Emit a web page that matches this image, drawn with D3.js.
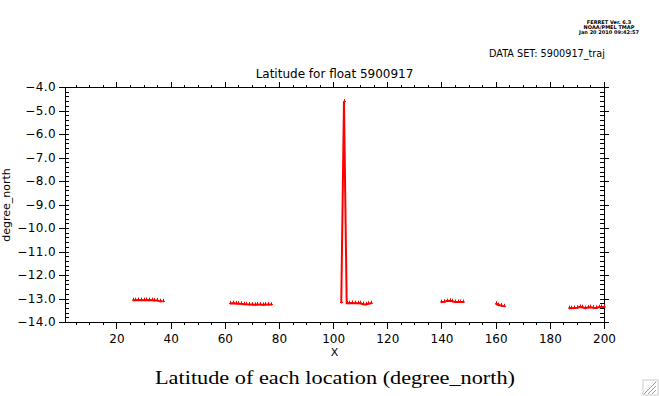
<!DOCTYPE html>
<html>
<head>
<meta charset="utf-8">
<script src="https://cdn.jsdelivr.net/npm/d3@7"></script>
<style>
  body { margin: 0; background: #fff; }
  svg { display: block; }
  .tick text { font-family: "DejaVu Sans", sans-serif; font-size: 12px; fill: #000; }
  .tick line { stroke: #000; }
</style>
</head>
<body>
<div id="chart"></div>
<script>
"use strict";

// float 5900917, latitude by location index (gaps = missing positions)
let segments = [
  { x: [26, 27, 28, 29, 30, 31, 32, 33, 34, 35, 36, 37],
    lat: [-13.07, -13.07, -13.06, -13.07, -13.07, -13.06, -13.07, -13.07, -13.08, -13.08, -13.12, -13.12] },
  { x: [62, 63, 64, 65, 66, 67, 68, 69, 70, 71, 72, 73, 74, 75, 76, 77],
    lat: [-13.21, -13.2, -13.21, -13.22, -13.22, -13.24, -13.25, -13.26, -13.26, -13.27, -13.26, -13.26, -13.27, -13.26, -13.26, -13.26] },
  { x: [103, 104, 105, 106, 107, 108, 109, 110, 111, 112, 113, 114],
    lat: [-13.17, -4.62, -13.2, -13.2, -13.19, -13.2, -13.2, -13.2, -13.24, -13.25, -13.22, -13.2] },
  { x: [140, 141, 142, 143, 144, 145, 146, 147, 148],
    lat: [-13.15, -13.14, -13.11, -13.1, -13.12, -13.15, -13.15, -13.15, -13.15] },
  { x: [160, 161, 162, 163],
    lat: [-13.22, -13.28, -13.3, -13.33] },
  { x: [187, 188, 189, 190, 191, 192, 193, 194, 195, 196, 197, 198, 199, 200],
    lat: [-13.41, -13.41, -13.4, -13.39, -13.36, -13.37, -13.41, -13.38, -13.37, -13.39, -13.4, -13.37, -13.36, -13.36] }
];

let xDomain = [1, 200];
let yDomain = [-14, -4];

let headerLines = ["FERRET Ver. 6.3", "NOAA/PMEL TMAP", "Jan 20 2010 09:42:57"];
let dataSetLabel = "DATA SET: 5900917_traj";
let plotTitle = "Latitude for float 5900917";
let xLabel = "X";
let yLabel = "degree_north";
let bottomTitle = "Latitude of each location (degree_north)";

const W = 659, H = 396;
const box = { left: 65, right: 604, top: 87, bottom: 322 };

let svg = d3.select("#chart").append("svg").attr("width", W).attr("height", H);

let x = d3.scaleLinear().domain(xDomain).range([box.left, box.right]);
let y = d3.scaleLinear().domain(yDomain).range([box.bottom, box.top]);

function drawAxis(axis, tx, ty, labels) {
  let g = svg.append("g")
    .attr("transform", `translate(${tx},${ty})`)
    .attr("shape-rendering", "crispEdges")
    .call(axis);
  g.select(".domain").remove();
  if (!labels) g.selectAll("text").remove();
  return g;
}

let fmt = d3.format(".1f");

// left axis: majors outward with labels, minors inward
drawAxis(d3.axisLeft(y).ticks(10).tickSize(6).tickFormat(fmt), box.left, 0, true)
  .selectAll("text").attr("x", -9).style("letter-spacing", "0.4px");
drawAxis(d3.axisRight(y).ticks(50).tickSize(4), box.left, 0, false);
// right axis
drawAxis(d3.axisLeft(y).ticks(50).tickSize(4), box.right, 0, false);
drawAxis(d3.axisRight(y).ticks(10).tickSize(5), box.right, 0, false);
// bottom axis
drawAxis(d3.axisBottom(x).ticks(10).tickSize(7).tickFormat(d3.format("d")), 0, box.bottom, true)
  .selectAll("text").attr("y", 12);
drawAxis(d3.axisBottom(x).ticks(40).tickSize(3), 0, box.bottom, false);
// top axis
drawAxis(d3.axisTop(x).ticks(10).tickSize(5), 0, box.top, false);
drawAxis(d3.axisTop(x).ticks(40).tickSize(2), 0, box.top, false);

// frame
svg.append("rect")
  .attr("x", box.left).attr("y", box.top)
  .attr("width", box.right - box.left).attr("height", box.bottom - box.top)
  .attr("fill", "none").attr("stroke", "#000").attr("shape-rendering", "crispEdges");

// data lines, one path per run of consecutive locations
let line = d3.line().x(d => x(d[0])).y(d => y(d[1]));

segments.forEach(function (s) {
  let pts = s.x.map((v, i) => [v, s.lat[i]]);
  svg.append("path")
    .datum(pts)
    .attr("d", line)
    .attr("fill", "none")
    .attr("stroke", "#ff0000")
    .attr("stroke-width", 2);
  svg.append("g").selectAll("path").data(pts).enter()
    .append("path")
    .attr("d", d => {
      let px = Math.round(x(d[0])) + 0.5, py = y(d[1]);
      return `M${px - 1.5},${py}H${px + 1.5}M${px},${py - 2.5}V${py + 1}`;
    })
    .attr("stroke", "#ff0000")
    .attr("stroke-width", 1)
    .attr("fill", "none");
});

// texts
svg.append("text").text(plotTitle)
  .attr("x", (box.left + box.right) / 2).attr("y", 78)
  .attr("text-anchor", "middle")
  .style("font-family", "DejaVu Sans, sans-serif").style("font-size", "12px");

svg.append("text").text(dataSetLabel)
  .attr("x", 605).attr("y", 57)
  .attr("text-anchor", "end")
  .attr("textLength", 116)
  .attr("lengthAdjust", "spacingAndGlyphs")
  .style("font-family", "DejaVu Sans, sans-serif").style("font-size", "11px");

svg.append("g").selectAll("text").data(headerLines).enter()
  .append("text")
  .text(d => d)
  .attr("x", 609)
  .attr("y", (d, i) => 24 + i * 5)
  .attr("text-anchor", "middle")
  .style("font-family", "DejaVu Sans, sans-serif")
  .style("font-size", "5px")
  .style("font-weight", "bold");

svg.append("text").text(xLabel)
  .attr("x", x(100.5)).attr("y", 356)
  .attr("text-anchor", "middle")
  .style("font-family", "DejaVu Sans, sans-serif").style("font-size", "11px");

svg.append("text").text(yLabel)
  .attr("transform", "translate(10,205) rotate(-90)")
  .attr("text-anchor", "middle")
  .style("font-family", "DejaVu Sans, sans-serif").style("font-size", "11px");

svg.append("text").text(bottomTitle)
  .attr("x", 155).attr("y", 384)
  .attr("textLength", 360)
  .attr("lengthAdjust", "spacingAndGlyphs")
  .style("font-family", "Liberation Serif, serif").style("font-size", "19px");

// window resize grip in the corner
let grip = svg.append("g").attr("stroke", "#999").attr("stroke-width", 1);
[4, 8, 12].forEach(function (k) {
  grip.append("line")
    .attr("x1", 656 - k).attr("y1", 394)
    .attr("x2", 656).attr("y2", 394 - k);
});
svg.append("rect").attr("x", 643).attr("y", 380).attr("width", 15).attr("height", 15)
  .attr("fill", "none").attr("stroke", "#ccc");
</script>
</body>
</html>
